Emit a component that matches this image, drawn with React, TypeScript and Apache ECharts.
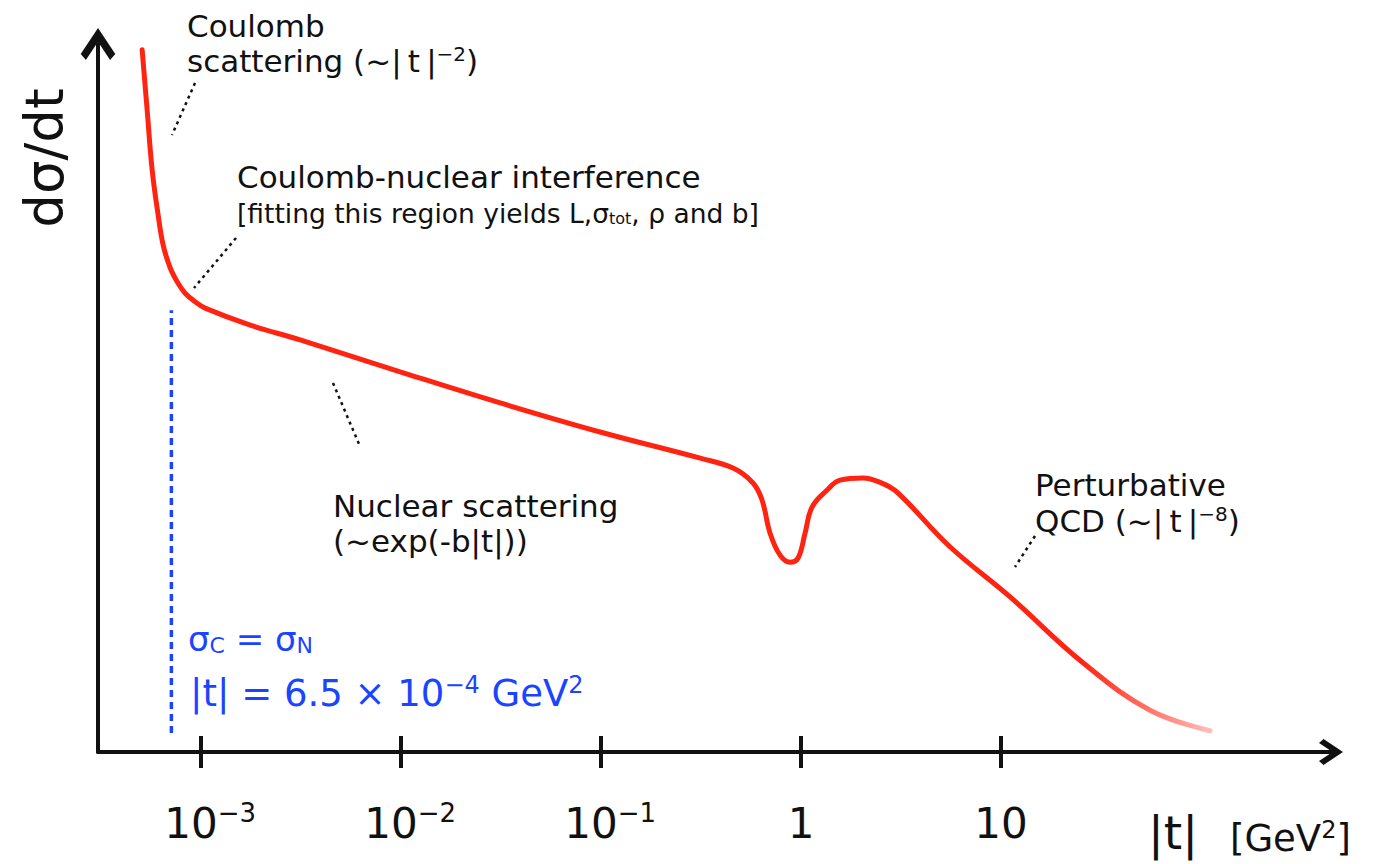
import React, { useEffect, useRef } from 'react';
import * as echarts from 'echarts';

// |t| in GeV^2 (log x) and dσ/dt in arbitrary units (0–100 of the drawn y range)
const tValues = [
  5.07e-4, 5.37e-4, 5.69e-4, 6.1e-4, 6.46e-4, 7.0e-4, 7.67e-4, 8.32e-4, 9.33e-4, 1.047e-3,
  1.76e-3, 3.13e-3, 9.89e-3, 3.13e-2, 0.0989, 0.313, 0.457, 0.575, 0.638, 0.70,
  0.785, 0.881, 0.966, 1.047, 1.135, 1.35, 1.567, 2.04, 2.48, 3.02,
  5.5, 11.1, 25.7, 55.6, 111,
];
const dsdt = [
  99.2, 90.7, 82.2, 75.8, 71.6, 68.4, 66.2, 64.8, 63.6, 62.7,
  60.3, 58.2, 53.7, 49.3, 45.2, 41.5, 40.1, 38.0, 35.6, 30.9,
  27.8, 26.8, 27.4, 30.9, 34.6, 37.0, 38.4, 38.7, 38.1, 36.7,
  29.1, 21.9, 12.6, 5.9, 3.0,
];
const tickValues = [1e-3, 1e-2, 1e-1, 1, 10];
const tickBases = ['10', '10', '10', '1', '10'];
const tickExponents = ['−3', '−2', '−1', '', ''];
const crossoverT = [7.1e-4, 7.1e-4];
const crossoverY = [2.7, 62.4];
const axisMinT = 3.05e-4;
const axisMaxT = 446.7;

const FONT = '"DejaVu Sans", "Noto Sans", sans-serif';
const INK = '#111111';
const BLUE = '#1a44ff';
const RED = '#ff2412';
const TS = '\u2009';
const arrowPath = 'path://M10,0 L20,15 L17,18.5 L10,8 L3,18.5 L0,15 Z';

function labelFor(v: number): string {
  const i = tickValues.findIndex((t) => Math.abs(Math.log10(t) - Math.log10(v)) < 1e-6);
  if (i < 0) return '';
  return tickExponents[i] ? `{bx|${tickBases[i]}}{sup|${tickExponents[i]}}` : `{b|${tickBases[i]}}`;
}

function txt(x: number, y: number, text: string, size: number, extra: any = {}) {
  return {
    type: 'text',
    x,
    y,
    z: 100,
    style: {
      text,
      fontSize: size,
      fontFamily: FONT,
      fill: INK,
      align: 'left',
      verticalAlign: 'middle',
      textAlign: 'left',
      textVerticalAlign: 'middle',
      ...extra,
    },
  };
}

function supRich(size: number, lineHeight: number, color: string) {
  return {
    sup: { fontSize: size, fontFamily: FONT, fill: color, verticalAlign: 'top', lineHeight },
  };
}

function leader(x1: number, y1: number, x2: number, y2: number) {
  return {
    type: 'line',
    z: 100,
    shape: { x1, y1, x2, y2 },
    style: { stroke: INK, lineWidth: 2.5, lineDash: [3, 4] },
  };
}

export default function App() {
  const ref = useRef<HTMLDivElement>(null);

  useEffect(() => {
    const chart = echarts.init(ref.current!, null, { renderer: 'svg' });
    const option: any = {
      animation: false,
      backgroundColor: '#ffffff',
      grid: { left: 98, right: 50, top: 44, bottom: 112, containLabel: false },
      xAxis: [
        {
          type: 'log',
          min: axisMinT,
          max: axisMaxT,
          position: 'bottom',
          axisLine: {
            show: true,
            onZero: false,
            symbol: ['none', arrowPath],
            symbolSize: [30, 24],
            lineStyle: { color: INK, width: 4 },
          },
          axisTick: {
            show: true,
            customValues: tickValues,
            length: 16,
            lineStyle: { color: INK, width: 4 },
          },
          axisLabel: {
            show: true,
            customValues: tickValues,
            formatter: (v: number) => labelFor(v),
            color: INK,
            fontFamily: FONT,
            fontSize: 42,
            margin: 48,
            rich: {
              b: { fontSize: 42, fontFamily: FONT, color: INK, lineHeight: 46 },
              bx: { fontSize: 42, fontFamily: FONT, color: INK, lineHeight: 46, padding: [0, 0, 0, 18] },
              sup: { fontSize: 26, fontFamily: FONT, color: INK, verticalAlign: 'top', lineHeight: 46 },
            },
          },
          splitLine: { show: false },
          minorTick: { show: false },
        },
        {
          type: 'log',
          min: axisMinT,
          max: axisMaxT,
          position: 'bottom',
          axisLine: { show: false, onZero: false },
          axisTick: {
            show: true,
            inside: true,
            customValues: tickValues,
            length: 16,
            lineStyle: { color: INK, width: 4 },
          },
          axisLabel: { show: false },
          splitLine: { show: false },
          minorTick: { show: false },
        },
      ],
      yAxis: {
        type: 'value',
        min: 0,
        max: 100,
        axisLine: {
          show: true,
          onZero: false,
          symbol: ['none', arrowPath],
          symbolSize: [40, 32],
          lineStyle: { color: INK, width: 4 },
        },
        axisTick: { show: false },
        axisLabel: { show: false },
        splitLine: { show: false },
      },
      series: [
        {
          name: 'dσ/dt',
          type: 'line',
          xAxisIndex: 0,
          data: tValues.map((t, i) => [t, dsdt[i]]),
          smooth: 0.4,
          showSymbol: false,
          symbol: 'none',
          z: 5,
          lineStyle: {
            width: 5,
            cap: 'round',
            color: new echarts.graphic.LinearGradient(0, 0, 1, 0, [
              { offset: 0, color: RED },
              { offset: 0.88, color: RED },
              { offset: 1, color: 'rgba(255,36,18,0.3)' },
            ]),
          },
        },
        {
          name: 'σC = σN',
          type: 'line',
          xAxisIndex: 0,
          data: crossoverT.map((t, i) => [t, crossoverY[i]]),
          showSymbol: false,
          symbol: 'none',
          z: 4,
          lineStyle: { width: 3.5, color: BLUE, type: [7, 5] },
        },
      ],
      graphic: [
        txt(187, 26, 'Coulomb', 31, { lineHeight: 35 }),
        txt(187, 61, `scattering (~|${TS}t${TS}|{sup|−2})`, 31, {
          lineHeight: 35,
          rich: supRich(20, 35, INK),
        }),
        leader(195, 83, 172, 135),
        txt(237, 177, 'Coulomb-nuclear interference', 31),
        txt(237, 213, '[fitting this region yields L,σ{sub|tot}, ρ and b]', 26.5, {
          rich: { sub: { fontSize: 16, fontFamily: FONT, fill: INK, verticalAlign: 'bottom' } },
        }),
        leader(236, 238, 194, 288),
        leader(333, 383, 359, 444),
        txt(333, 506, 'Nuclear scattering', 31, { lineHeight: 35 }),
        txt(333, 541, '(~exp(-b|t|))', 31, { lineHeight: 35 }),
        txt(1035, 485, 'Perturbative', 31, { lineHeight: 34 }),
        txt(1035, 521, `QCD (~|${TS}t${TS}|{sup|−8})`, 31, { lineHeight: 34, rich: supRich(20, 34, INK) }),
        leader(1035, 536, 1015, 567),
        txt(188, 639, 'σ{s|C} = σ{s|N}', 34, {
          fill: BLUE,
          rich: { s: { fontSize: 22, fontFamily: FONT, fill: BLUE, verticalAlign: 'bottom' } },
        }),
        txt(190, 693, '|t| = 6.5 × 10{sup|−4} GeV{sup|2}', 37, {
          fill: BLUE,
          lineHeight: 40,
          rich: supRich(24, 40, BLUE),
        }),
        {
          type: 'text',
          x: 44,
          y: 158,
          rotation: Math.PI / 2,
          z: 100,
          style: {
            text: 'dσ/dt',
            fontSize: 53,
            fontFamily: FONT,
            fill: INK,
            align: 'center',
            verticalAlign: 'middle',
            textAlign: 'center',
            textVerticalAlign: 'middle',
          },
        },
        txt(1148, 832, '|t|', 47, { lineHeight: 47 }),
        txt(1230, 838, '[GeV{sup|2}]', 37, { lineHeight: 40, rich: supRich(24, 40, INK) }),
      ],
    };
    chart.setOption(option);
    return () => chart.dispose();
  }, []);

  return (
    <div
      ref={ref}
      style={{ position: 'fixed', left: 0, top: 0, width: 1381, height: 864, background: '#ffffff' }}
    />
  );
}
